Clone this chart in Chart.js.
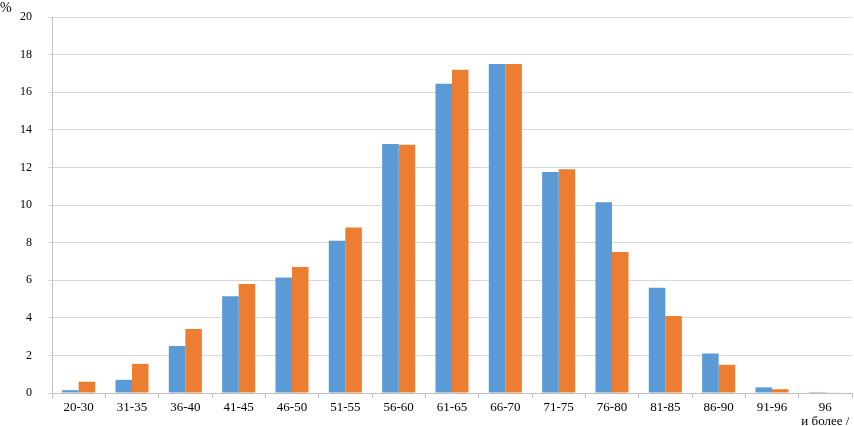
<!DOCTYPE html>
<html><head><meta charset="utf-8">
<script src="https://cdn.jsdelivr.net/npm/chart.js@4/dist/chart.umd.min.js"></script>
<style>html,body{margin:0;padding:0;background:#fff}#w{width:854px;height:426px}</style>
</head><body><div id="w"><canvas id="c"></canvas></div>
<script>
const categories = ["20-30","31-35","36-40","41-45","46-50","51-55","56-60","61-65","66-70","71-75","76-80","81-85","86-90","91-96",["96","и более /"]];
const seriesBlue = [0.15,0.7,2.5,5.15,6.15,8.1,13.25,16.45,17.5,11.75,10.15,5.6,2.1,0.3,0.05];
const seriesOrange = [0.6,1.55,3.4,5.8,6.7,8.8,13.2,17.2,17.5,11.9,7.5,4.1,1.5,0.2,0.02];
const yTicks = [0,2,4,6,8,10,12,14,16,18,20];
const unitLabel = "%";

const pctPlugin = {id:'pct', afterDraw(ch){const c=ch.ctx;c.save();c.font='14px "Liberation Serif"';c.fillStyle='#000';c.textBaseline='top';c.fillText(unitLabel,0,1);c.restore();}};
new Chart(document.getElementById('c'),{
  type:'bar',
  data:{labels:categories,datasets:[
    {data:seriesBlue,backgroundColor:'#5B9BD5',barPercentage:1,categoryPercentage:0.62},
    {data:seriesOrange,backgroundColor:'#ED7D31',barPercentage:1,categoryPercentage:0.62}
  ]},
  options:{
    responsive:true,maintainAspectRatio:false,animation:false,
    layout:{padding:{top:17,right:2,left:0,bottom:0}},
    plugins:{legend:{display:false},tooltip:{enabled:false}},
    scales:{
      x:{grid:{drawOnChartArea:false,drawTicks:true,tickLength:5,color:'#bfbfbf'},border:{color:'#bfbfbf'},
         ticks:{color:'#000',font:{family:'Liberation Serif',size:13,lineHeight:1.05},maxRotation:0,autoSkip:false,padding:3},
         afterFit(s){s.height=33;s.paddingTop=0;s.paddingBottom=0;s.paddingLeft=0;s.paddingRight=0;}},
      y:{min:0,max:20,afterBuildTicks(s){s.ticks=yTicks.map(v=>({value:v}));},
         grid:{color:'#d9d9d9',tickLength:4,drawTicks:true},border:{color:'#bfbfbf'},
         ticks:{color:'#000',font:{family:'Liberation Serif',size:12},padding:16},
         afterFit(s){s.width=52;s.paddingTop=0;s.paddingBottom=0;s.paddingLeft=0;s.paddingRight=0;}}
    }
  },
  plugins:[pctPlugin]
});
</script></body></html>
